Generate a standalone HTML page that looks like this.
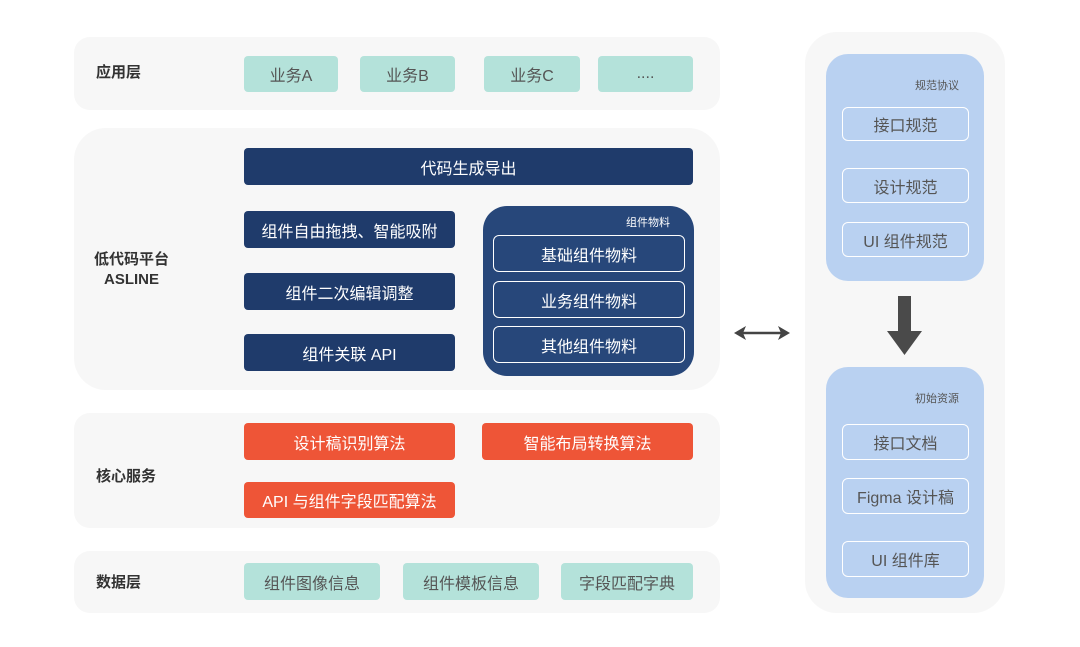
<!DOCTYPE html>
<html><head><meta charset="utf-8"><style>
body{margin:0;width:1080px;height:647px;background:#fff;font-family:"Liberation Sans","Noto Sans CJK SC",sans-serif;position:relative;overflow:hidden}
div{position:absolute;box-sizing:border-box}
.p{background:#f7f7f7;border-radius:16px}
.t{display:flex;align-items:center;justify-content:center;font-size:16px;border-radius:4px}
.g{background:#b4e2da;color:#555}
.n{background:#1f3b6b;color:#fff}
.o{background:#ee5537;color:#fff}
.w{border:1px solid #fff;color:#fff;border-radius:6px}
.b{border:1px solid #fff;color:#555;border-radius:6px}
.l{font-weight:bold;font-size:15px;color:#333;text-align:center;line-height:20px}
.s{font-size:11px;color:#555}
</style></head><body>
<div class="p" style="left:74px;top:37px;width:646px;height:73px"></div>
<div class="l" style="left:96px;top:63px">应用层</div>
<div class="t g" style="left:244px;top:56px;width:94px;height:36px">业务A</div>
<div class="t g" style="left:360px;top:56px;width:95px;height:36px">业务B</div>
<div class="t g" style="left:484px;top:56px;width:96px;height:36px">业务C</div>
<div class="t g" style="left:598px;top:56px;width:95px;height:36px">....</div>

<div class="p" style="left:74px;top:128px;width:646px;height:262px;border-radius:32px"></div>
<div class="l" style="left:94px;top:250px">低代码平台<br>ASLINE</div>
<div class="t n" style="left:244px;top:148px;width:449px;height:37px">代码生成导出</div>
<div class="t n" style="left:244px;top:211px;width:211px;height:37px">组件自由拖拽、智能吸附</div>
<div class="t n" style="left:244px;top:273px;width:211px;height:37px">组件二次编辑调整</div>
<div class="t n" style="left:244px;top:334px;width:211px;height:37px">组件关联 API</div>
<div style="left:483px;top:206px;width:211px;height:170px;background:#27477a;border-radius:24px"></div>
<div class="s" style="left:626px;top:214px;color:#fff">组件物料</div>
<div class="t w" style="left:493px;top:235px;width:192px;height:37px">基础组件物料</div>
<div class="t w" style="left:493px;top:281px;width:192px;height:37px">业务组件物料</div>
<div class="t w" style="left:493px;top:326px;width:192px;height:37px">其他组件物料</div>

<div class="p" style="left:74px;top:413px;width:646px;height:115px"></div>
<div class="l" style="left:96px;top:467px">核心服务</div>
<div class="t o" style="left:244px;top:423px;width:211px;height:37px">设计稿识别算法</div>
<div class="t o" style="left:482px;top:423px;width:211px;height:37px">智能布局转换算法</div>
<div class="t o" style="left:244px;top:482px;width:211px;height:36px">API 与组件字段匹配算法</div>

<div class="p" style="left:74px;top:551px;width:646px;height:62px"></div>
<div class="l" style="left:96px;top:573px">数据层</div>
<div class="t g" style="left:244px;top:563px;width:136px;height:37px">组件图像信息</div>
<div class="t g" style="left:403px;top:563px;width:136px;height:37px">组件模板信息</div>
<div class="t g" style="left:561px;top:563px;width:132px;height:37px">字段匹配字典</div>

<svg style="position:absolute;left:730px;top:322px" width="64" height="22"><line x1="8" y1="11" x2="56" y2="11" stroke="#444" stroke-width="2.5"/><path d="M4 11 L16 4 L13 11 L16 18Z M60 11 L48 4 L51 11 L48 18Z" fill="#444"/></svg>

<div class="p" style="left:805px;top:32px;width:200px;height:581px;border-radius:32px"></div>
<div style="left:826px;top:54px;width:158px;height:227px;background:#b9d1f1;border-radius:22px"></div>
<div class="s" style="left:915px;top:77px">规范协议</div>
<div class="t b" style="left:842px;top:107px;width:127px;height:34px">接口规范</div>
<div class="t b" style="left:842px;top:168px;width:127px;height:35px">设计规范</div>
<div class="t b" style="left:842px;top:222px;width:127px;height:35px">UI 组件规范</div>
<svg style="position:absolute;left:885px;top:296px" width="40" height="62"><rect x="13" y="0" width="13" height="36" fill="#4a4a4a"/><path d="M2 35 L37 35 L19.5 59Z" fill="#4a4a4a"/></svg>
<div style="left:826px;top:367px;width:158px;height:231px;background:#b9d1f1;border-radius:22px"></div>
<div class="s" style="left:915px;top:390px">初始资源</div>
<div class="t b" style="left:842px;top:424px;width:127px;height:36px">接口文档</div>
<div class="t b" style="left:842px;top:478px;width:127px;height:36px">Figma 设计稿</div>
<div class="t b" style="left:842px;top:541px;width:127px;height:36px">UI 组件库</div>
</body></html>
